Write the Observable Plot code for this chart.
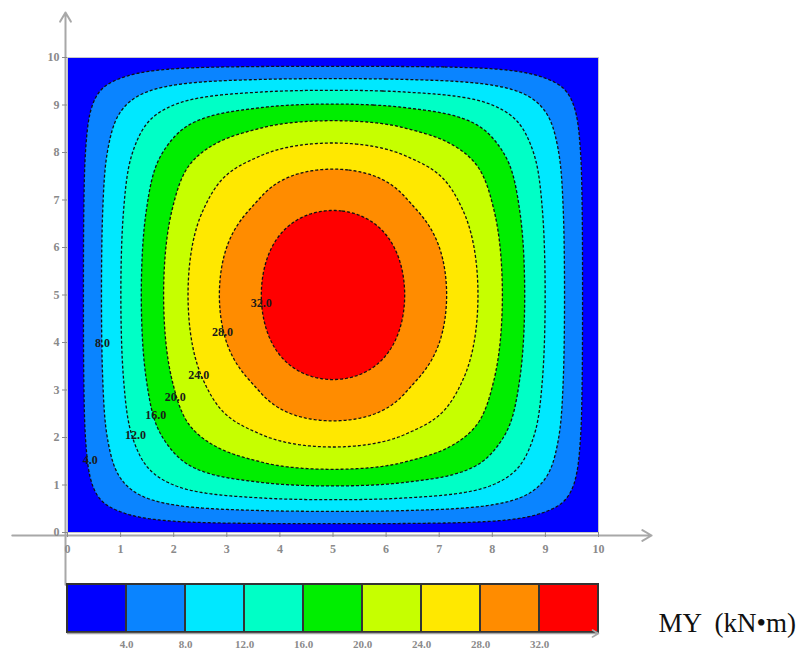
<!DOCTYPE html>
<html>
<head>
<meta charset="utf-8">
<script src="https://cdn.jsdelivr.net/npm/d3@7"></script>
<script src="https://cdn.jsdelivr.net/npm/@observablehq/plot@0.6"></script>
<style>
  body { margin: 0; background: #fff; font-family: "Liberation Serif", serif; }
  #chart { position: relative; width: 812px; height: 654px; }
  #chart svg { display: block; }
</style>
</head>
<body>
<div id="chart"></div>
<script>
// ---- data ----
const levels = [4, 8, 12, 16, 20, 24, 28, 32];
const levelLabels = ["4.0", "8.0", "12.0", "16.0", "20.0", "24.0", "28.0", "32.0"];
const bandColors = ["#0000ff", "#0a84ff", "#00e8ff", "#00ffc6", "#00ee00", "#c6ff00", "#ffe800", "#ff8c00", "#ff0000"];
// distance from the x-edges (m) at which each level is crossed along the line y = 5
const xCross = [0.30, 0.64, 1.005, 1.39, 1.81, 2.27, 2.86, 3.65];
// distance from the y-edges (m) at which each level is crossed along the line x = 5
const yCross = [0.185, 0.445, 0.69, 0.98, 1.33, 1.80, 2.35, 3.22];
const edgeValue = 0;
const centerValue = 35.7;
const cornerFill = 1.0; // how square the contours are near the corners
// contour label positions (m)
const labelX = [0.43, 0.66, 1.28, 1.66, 2.03, 2.47, 2.92, 3.65];
const labelY = [1.52, 3.98, 2.04, 2.46, 2.84, 3.31, 4.21, 4.82];
const xTicks = [0, 1, 2, 3, 4, 5, 6, 7, 8, 9, 10];
const yTicks = [0, 1, 2, 3, 4, 5, 6, 7, 8, 9, 10];
const bandLow = [0, 4, 8, 12, 16, 20, 24, 28, 32];
const unitLabel = "MY  (kN\u2022m)";

// ---- monotone cubic profile through the read crossings (quadratic cap at the centre) ----
function monotoneProfile(xs, ys) {
  const n = xs.length;
  const d = [], m = new Array(n);
  for (let i = 0; i < n - 1; i++) d.push((ys[i + 1] - ys[i]) / (xs[i + 1] - xs[i]));
  m[0] = d[0];
  for (let i = 1; i < n - 1; i++) m[i] = d[i - 1] * d[i] <= 0 ? 0 : (d[i - 1] + d[i]) / 2;
  m[n - 1] = 0;
  m[n - 2] = 2 * d[n - 2];
  for (let i = 0; i < n - 2; i++) {
    if (d[i] === 0) { m[i] = m[i + 1] = 0; continue; }
    const a = m[i] / d[i], b = m[i + 1] / d[i], s = a * a + b * b;
    if (s > 9) { const t = 3 / Math.sqrt(s); m[i] = t * a * d[i]; m[i + 1] = t * b * d[i]; }
  }
  return t => {
    if (t <= xs[0]) return ys[0];
    if (t >= xs[n - 1]) return ys[n - 1];
    let i = 0; while (t > xs[i + 1]) i++;
    const h = xs[i + 1] - xs[i], u = (t - xs[i]) / h;
    const h00 = 2*u*u*u - 3*u*u + 1, h10 = u*u*u - 2*u*u + u, h01 = -2*u*u*u + 3*u*u, h11 = u*u*u - u*u;
    return h00 * ys[i] + h10 * h * m[i] + h01 * ys[i + 1] + h11 * h * m[i + 1];
  };
}
const profVals = [edgeValue, ...levels, centerValue];
const px = monotoneProfile([0, ...xCross, 5], profVals);
const py = monotoneProfile([0, ...yCross, 5], profVals);
const field = (x, y) => {
  const a = px(Math.min(x, 10 - x)) / centerValue;
  const b = py(Math.min(y, 10 - y)) / centerValue;
  return centerValue * a * b * (1 + cornerFill * (1 - a) * (1 - b));
};

const colorScale = { type: "threshold", domain: levels, range: bandColors };
const serif = "Liberation Serif, DejaVu Serif, serif";
const axisGray = "#a8a8a8";

const labels = levels.map((v, i) => ({ x: labelX[i], y: labelY[i], t: levelLabels[i] }));

const main = Plot.plot({
  width: 812, height: 575,
  marginLeft: 67, marginRight: 214, marginTop: 57, marginBottom: 43,
  x: { domain: [0, 10] },
  y: { domain: [0, 10] },
  color: colorScale,
  style: { overflow: "visible", background: "transparent", fontFamily: serif },
  marks: [
    Plot.frame({ fill: bandColors[0], stroke: "#c8c8c8" }),
    Plot.contour({
      value: field, x1: 0, y1: 0, x2: 10, y2: 10,
      thresholds: levels, fill: "value",
      stroke: "#111", strokeWidth: 1.3, strokeDasharray: "3,2", pixelSize: 1
    }),
    Plot.text(labels, { x: "x", y: "y", text: "t", fill: "#1a1a1a", fontSize: 12, fontWeight: "bold", fontFamily: serif }),
    // axis lines with arrows
    Plot.arrow([{ a: 0 }], { x1: -1.04, x2: 11.0, y1: 0, y2: 0, dy: 3, stroke: axisGray, strokeWidth: 2, headLength: 8 }),
    Plot.arrow([{ a: 0 }], { x1: 0, x2: 0, y1: -1.1, y2: 10.95, dx: -2, stroke: axisGray, strokeWidth: 2, headLength: 8 }),
    Plot.axisX({ ticks: xTicks, tickSize: 5, tickPadding: 7, label: null, color: "#8a8a8a", fontSize: 12, fontWeight: "bold", fontFamily: serif }),
    Plot.axisY({ ticks: yTicks, tickSize: 5, tickPadding: 3, label: null, color: "#8a8a8a", fontSize: 12, fontWeight: "bold", fontFamily: serif })
  ]
});

const legend = Plot.plot({
  width: 812, height: 79,
  marginLeft: 67, marginRight: 214, marginTop: 9, marginBottom: 22,
  x: { domain: [0, 9], axis: null },
  y: { domain: [0, 1], axis: null },
  color: colorScale,
  style: { overflow: "visible", background: "transparent", fontFamily: serif },
  marks: [
    Plot.rect(bandLow, { x1: (d, i) => i, x2: (d, i) => i + 1, y1: 0, y2: 1, fill: d => d, stroke: "#333", strokeWidth: 2 }),
    Plot.arrow([{ a: 0 }], { x1: 0, x2: 9, y1: 0, y2: 0, dy: 1, stroke: axisGray, strokeWidth: 1.5, headLength: 7 }),
    Plot.text(levels, { x: (d, i) => i + 1, y: 0, dy: 12, text: (d, i) => levelLabels[i], fill: "#8a8a8a", fontSize: 11, fontWeight: "bold", fontFamily: serif }),
    Plot.text([unitLabel], { x: 9, y: 0.5, dx: 60, dy: 15, text: d => d, textAnchor: "start", fill: "#111", fontSize: 27, fontFamily: serif })
  ]
});

const chart = document.getElementById("chart");
chart.appendChild(main);
chart.appendChild(legend);
</script>
</body>
</html>
